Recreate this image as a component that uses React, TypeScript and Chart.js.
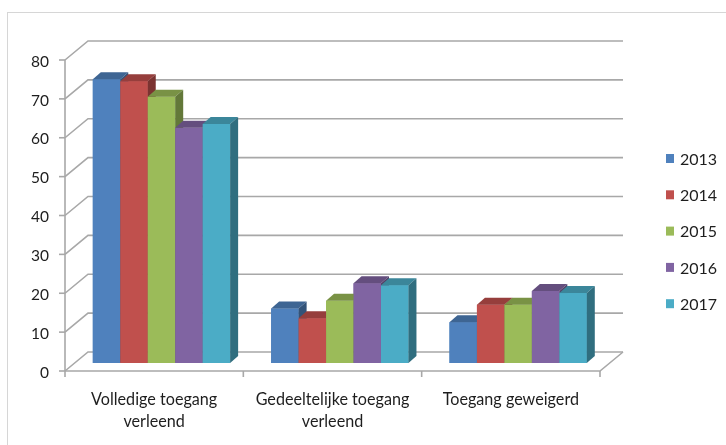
import React, { useEffect, useRef } from "react";
import { Chart, registerables } from "chart.js";

Chart.register(...registerables);

// ---- data ----
const categories: string[][] = [
  ["Volledige toegang", "verleend"],
  ["Gedeeltelijke toegang", "verleend"],
  ["Toegang geweigerd"],
];
const seriesNames = ["2013", "2014", "2015", "2016", "2017"];
const values2013 = [73, 14, 10.5];
const values2014 = [72.5, 11.5, 15];
const values2015 = [68.5, 16, 15];
const values2016 = [60.5, 20.5, 18.5];
const values2017 = [61.5, 20, 18];
const seriesValues = [values2013, values2014, values2015, values2016, values2017];
const seriesColors = ["#4F81BD", "#C0504D", "#9BBB59", "#8064A2", "#4BACC6"];
const yMin = 0;
const yMax = 80;
const yStep = 10;

// ---- 3D geometry (style) ----
const FRONT = { dx: -7.3, dy: 8 }; // bar plane -> front plane
const DEPTH = { dx: 23, dy: -19 }; // front plane -> back wall
const BAR_D = { dx: 8, dy: -7 }; // bar depth
const LINE = "#a8a8a8";
const TEXT = "#1e1e1e";
const FONT_FAMILY = "Lato, 'Open Sans', sans-serif";

function shade(hex: string, f: number) {
  const n = parseInt(hex.slice(1), 16);
  const r = Math.round(((n >> 16) & 255) * f);
  const g = Math.round(((n >> 8) & 255) * f);
  const b = Math.round((n & 255) * f);
  return `rgb(${r},${g},${b})`;
}

function scaledText(ctx: CanvasRenderingContext2D, text: string, x: number, y: number, sx: number, align: CanvasTextAlign) {
  ctx.save();
  ctx.translate(x, y);
  ctx.scale(sx, 1);
  ctx.textAlign = align;
  ctx.fillText(text, 0, 0);
  ctx.restore();
}

const walls3d = {
  id: "walls3d",
  beforeDatasetsDraw(chart: any) {
    const ctx: CanvasRenderingContext2D = chart.ctx;
    const ys = chart.scales.y;
    const ca = chart.chartArea;
    const fl = ca.left + FRONT.dx;
    const fr = ca.right + FRONT.dx;
    const fy = (v: number) => ys.getPixelForValue(v) + FRONT.dy;
    ctx.save();
    ctx.strokeStyle = LINE;
    ctx.lineWidth = 1.6;
    ctx.lineCap = "butt";
    ys.ticks.forEach((t: any) => {
      const y = fy(t.value);
      ctx.beginPath();
      ctx.moveTo(fl, y);
      ctx.lineTo(fl + DEPTH.dx, y + DEPTH.dy);
      ctx.lineTo(fr + DEPTH.dx, y + DEPTH.dy);
      ctx.stroke();
      ctx.beginPath();
      ctx.moveTo(fl - 6, y);
      ctx.lineTo(fl, y);
      ctx.stroke();
    });
    const y0 = fy(yMin);
    ctx.beginPath();
    ctx.moveTo(fl, fy(yMax));
    ctx.lineTo(fl, y0);
    ctx.stroke();
    ctx.beginPath();
    ctx.moveTo(fl, y0);
    ctx.lineTo(fr, y0);
    ctx.lineTo(fr + DEPTH.dx, y0 + DEPTH.dy);
    ctx.stroke();
    const n = chart.data.labels.length;
    const catW = (ca.right - ca.left) / n;
    for (let i = 0; i <= n; i++) {
      const bx = fl + i * catW;
      ctx.beginPath();
      ctx.moveTo(bx, y0);
      ctx.lineTo(bx, y0 + 6);
      ctx.stroke();
    }
    ctx.fillStyle = TEXT;
    ctx.font = `16px ${FONT_FAMILY}`;
    ctx.textBaseline = "middle";
    ys.ticks.forEach((t: any) => {
      scaledText(ctx, String(t.value), fl - 16, fy(t.value) + 1.5, 0.97, "right");
    });
    ctx.font = `17px ${FONT_FAMILY}`;
    ctx.textBaseline = "alphabetic";
    chart.data.labels.forEach((lab: string[], i: number) => {
      const cx = fl + (i + 0.5) * catW;
      lab.forEach((line, j) => {
        scaledText(ctx, line, cx, y0 + 34 + j * 21.5, 0.95, "center");
      });
    });
    ctx.restore();
  },
  afterDatasetsDraw(chart: any) {
    const ctx: CanvasRenderingContext2D = chart.ctx;
    ctx.save();
    // redraw bars in series order (left to right) so each bar covers the previous bar's side
    chart.data.datasets.forEach((ds: any, di: number) => {
      const meta = chart.getDatasetMeta(di);
      const color = seriesColors[di];
      meta.data.forEach((el: any) => {
        const p = el.getProps(["x", "y", "base", "width"], true);
        const l = p.x - p.width / 2;
        const r = p.x + p.width / 2;
        const top = Math.min(p.y, p.base);
        const base = Math.max(p.y, p.base);
        ctx.fillStyle = color;
        ctx.fillRect(l, top, r - l, base - top);
        ctx.fillStyle = shade(color, 0.78);
        ctx.beginPath();
        ctx.moveTo(l, top);
        ctx.lineTo(l + BAR_D.dx, top + BAR_D.dy);
        ctx.lineTo(r + BAR_D.dx, top + BAR_D.dy);
        ctx.lineTo(r, top);
        ctx.closePath();
        ctx.fill();
        ctx.fillStyle = shade(color, 0.64);
        ctx.beginPath();
        ctx.moveTo(r, top);
        ctx.lineTo(r + BAR_D.dx, top + BAR_D.dy);
        ctx.lineTo(r + BAR_D.dx, base + BAR_D.dy);
        ctx.lineTo(r, base);
        ctx.closePath();
        ctx.fill();
      });
    });
    ctx.restore();
  },
  afterDraw(chart: any) {
    const ctx: CanvasRenderingContext2D = chart.ctx;
    ctx.save();
    ctx.font = `16px ${FONT_FAMILY}`;
    ctx.textBaseline = "middle";
    chart.data.datasets.forEach((ds: any, i: number) => {
      const cy = 158.5 + i * 36.3;
      ctx.fillStyle = ds.backgroundColor;
      ctx.fillRect(666, cy - 4.5, 8, 9);
      ctx.fillStyle = TEXT;
      scaledText(ctx, ds.label, 680, cy + 1, 1.0, "left");
    });
    ctx.restore();
  },
};

export default function App() {
  const ref = useRef<HTMLCanvasElement>(null);
  useEffect(() => {
    const chart = new Chart(ref.current!, {
      type: "bar",
      data: {
        labels: categories as any,
        datasets: seriesNames.map((name, i) => ({
          label: name,
          data: seriesValues[i],
          backgroundColor: seriesColors[i],
          borderWidth: 0,
          categoryPercentage: 0.77,
          barPercentage: 1,
        })),
      },
      options: {
        responsive: false,
        devicePixelRatio: 1,
        animation: false,
        layout: { padding: { left: 72.3, right: 118.7, top: 52, bottom: 82 } },
        plugins: { legend: { display: false }, tooltip: { enabled: false } },
        scales: {
          x: { display: false, offset: true },
          y: { display: false, min: yMin, max: yMax, ticks: { stepSize: yStep } },
        },
      },
      plugins: [walls3d],
    });
    return () => chart.destroy();
  }, []);
  return (
    <div style={{ position: "fixed", left: 0, top: 0, width: 726, height: 445, overflow: "hidden", background: "#fff" }}>
      <div style={{ position: "absolute", left: 7, top: 12, width: 780, height: 500, border: "1px solid #d6d6d6" }} />
      <canvas ref={ref} width={726} height={445} style={{ position: "absolute", left: 0, top: 0 }} />
    </div>
  );
}
